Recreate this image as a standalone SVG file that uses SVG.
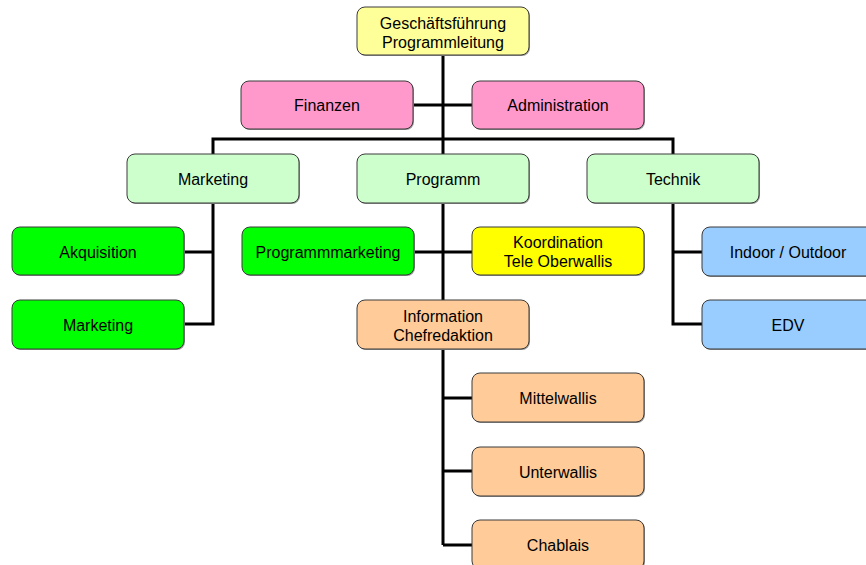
<svg xmlns="http://www.w3.org/2000/svg" width="866" height="565" viewBox="0 0 866 565">
  <defs>
    <style>
      .box { stroke: #3a3a3a; stroke-width: 1; }
      .shadow { fill: #9a9a9a; }
      .lbl { font-family: "Liberation Sans", Arial, sans-serif; font-size: 16px; fill: #000; text-anchor: middle; }
      .wire { stroke: #000; stroke-width: 3; fill: none; stroke-linecap: butt; }
      .top { fill: #FFFF99; }
      .pink { fill: #FF99CC; }
      .lgreen { fill: #CCFFCC; }
      .green { fill: #00FF00; }
      .yellow { fill: #FFFF00; }
      .peach { fill: #FFCC99; }
      .blue { fill: #99CCFF; }
    </style>
  </defs>
  <rect width="866" height="565" fill="#fff"/>

  <!-- connectors -->
  <g id="connectors" class="wire">
    <path d="M443 55 V545"/>
    <path d="M413 105 H472"/>
    <path d="M213 154 V139 H673 V154"/>
    <path d="M184 252 H213 M213 203 V324 H184"/>
    <path d="M414 252 H472"/>
    <path d="M673 203 V324 H702 M673 252 H702"/>
    <path d="M443 398 H472 M443 471 H472 M443 545 H472"/>
  </g>

  <g id="geschaeftsfuehrung">
    <rect class="shadow" x="358" y="8" width="172" height="48" rx="8"/>
    <rect class="box top" x="357" y="7" width="172" height="48" rx="8"/>
    <text class="lbl" x="443" y="28.5">Geschäftsführung</text>
    <text class="lbl" x="443" y="47.5">Programmleitung</text>
  </g>

  <g id="finanzen">
    <rect class="shadow" x="242" y="82" width="172" height="48" rx="8"/>
    <rect class="box pink" x="241" y="81" width="172" height="48" rx="8"/>
    <text class="lbl" x="327" y="111">Finanzen</text>
  </g>

  <g id="administration">
    <rect class="shadow" x="473" y="82" width="172" height="48" rx="8"/>
    <rect class="box pink" x="472" y="81" width="172" height="48" rx="8"/>
    <text class="lbl" x="558" y="111">Administration</text>
  </g>

  <g id="marketing">
    <rect class="shadow" x="128" y="155" width="172" height="49" rx="8"/>
    <rect class="box lgreen" x="127" y="154" width="172" height="49" rx="8"/>
    <text class="lbl" x="213" y="185">Marketing</text>
  </g>

  <g id="programm">
    <rect class="shadow" x="358" y="155" width="172" height="49" rx="8"/>
    <rect class="box lgreen" x="357" y="154" width="172" height="49" rx="8"/>
    <text class="lbl" x="443" y="185">Programm</text>
  </g>

  <g id="technik">
    <rect class="shadow" x="588" y="155" width="172" height="49" rx="8"/>
    <rect class="box lgreen" x="587" y="154" width="172" height="49" rx="8"/>
    <text class="lbl" x="673" y="185">Technik</text>
  </g>

  <g id="akquisition">
    <rect class="shadow" x="13" y="228" width="172" height="48" rx="8"/>
    <rect class="box green" x="12" y="227" width="172" height="48" rx="8"/>
    <text class="lbl" x="98" y="258">Akquisition</text>
  </g>

  <g id="marketing-sub">
    <rect class="shadow" x="13" y="301" width="172" height="49" rx="8"/>
    <rect class="box green" x="12" y="300" width="172" height="49" rx="8"/>
    <text class="lbl" x="98" y="331">Marketing</text>
  </g>

  <g id="programmmarketing">
    <rect class="shadow" x="243" y="228" width="172" height="48" rx="8"/>
    <rect class="box green" x="242" y="227" width="172" height="48" rx="8"/>
    <text class="lbl" x="328" y="258">Programmmarketing</text>
  </g>

  <g id="koordination">
    <rect class="shadow" x="473" y="228" width="172" height="48" rx="8"/>
    <rect class="box yellow" x="472" y="227" width="172" height="48" rx="8"/>
    <text class="lbl" x="558" y="248">Koordination</text>
    <text class="lbl" x="558" y="267">Tele Oberwallis</text>
  </g>

  <g id="information">
    <rect class="shadow" x="358" y="301" width="172" height="49" rx="8"/>
    <rect class="box peach" x="357" y="300" width="172" height="49" rx="8"/>
    <text class="lbl" x="443" y="322">Information</text>
    <text class="lbl" x="443" y="341">Chefredaktion</text>
  </g>

  <g id="indoor-outdoor">
    <rect class="shadow" x="703" y="228" width="172" height="49" rx="8"/>
    <rect class="box blue" x="702" y="227" width="172" height="49" rx="8"/>
    <text class="lbl" x="788" y="258">Indoor / Outdoor</text>
  </g>

  <g id="edv">
    <rect class="shadow" x="703" y="301" width="172" height="49" rx="8"/>
    <rect class="box blue" x="702" y="300" width="172" height="49" rx="8"/>
    <text class="lbl" x="788" y="331">EDV</text>
  </g>

  <g id="mittelwallis">
    <rect class="shadow" x="473" y="374" width="172" height="49" rx="8"/>
    <rect class="box peach" x="472" y="373" width="172" height="49" rx="8"/>
    <text class="lbl" x="558" y="404">Mittelwallis</text>
  </g>

  <g id="unterwallis">
    <rect class="shadow" x="473" y="448" width="172" height="49" rx="8"/>
    <rect class="box peach" x="472" y="447" width="172" height="49" rx="8"/>
    <text class="lbl" x="558" y="478">Unterwallis</text>
  </g>

  <g id="chablais">
    <rect class="shadow" x="473" y="521" width="172" height="49" rx="8"/>
    <rect class="box peach" x="472" y="520" width="172" height="49" rx="8"/>
    <text class="lbl" x="558" y="551">Chablais</text>
  </g>
</svg>
